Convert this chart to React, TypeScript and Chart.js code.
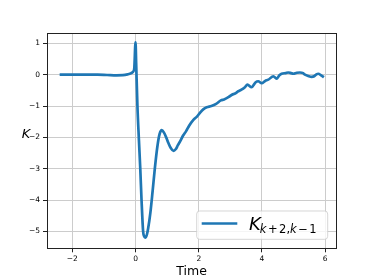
import React, { useEffect, useRef } from 'react';
import { Chart, registerables } from 'chart.js';

Chart.register(...registerables);

const timeValues = [
  -2.4, -2.1, -1.8, -1.5, -1.2, -0.9, -0.6, -0.4, -0.25, -0.15, -0.08, -0.04, 0.0, 0.02, 0.06, 0.107,
  0.15, 0.19, 0.24, 0.28, 0.32, 0.36, 0.4, 0.47, 0.54, 0.61, 0.69, 0.76, 0.83, 0.9, 0.97,
  1.04, 1.12, 1.2, 1.27, 1.34, 1.41, 1.5, 1.6, 1.7, 1.83, 1.95, 2.05, 2.15, 2.25, 2.4, 2.55, 2.7, 2.8,
  2.95, 3.05, 3.15, 3.25, 3.35, 3.45, 3.54, 3.67, 3.8, 3.88, 3.99, 4.1, 4.2, 4.36, 4.46, 4.55, 4.62,
  4.75, 4.83, 4.92, 4.99, 5.1, 5.2, 5.3, 5.36, 5.46, 5.57, 5.65, 5.72, 5.78, 5.87, 5.96,
];

const kValues = [
  0, 0.0, 0.0, 0.0, 0.0, -0.01, -0.02, -0.015, 0.01, 0.04, 0.09, 0.2, 1.03, 0.37, -1.0, -2.08,
  -3.0, -4.0, -5.0, -5.17, -5.2, -5.1, -4.9, -4.4, -3.72, -3.0, -2.3, -1.9, -1.77, -1.85, -2.0,
  -2.18, -2.35, -2.43, -2.38, -2.25, -2.13, -1.95, -1.8, -1.62, -1.44, -1.33, -1.2, -1.1, -1.04, -1.0, -0.93, -0.82, -0.79,
  -0.71, -0.64, -0.6, -0.53, -0.48, -0.41, -0.32, -0.4, -0.24, -0.21, -0.27, -0.2, -0.16, -0.05, -0.13, -0.02, 0.03,
  0.05, 0.07, 0.05, 0.03, 0.06, 0.07, 0.05, 0.0, -0.04, -0.07, -0.05, 0.01, 0.03, -0.02, -0.08,
];

const xTicks = [-2, 0, 2, 4, 6];
const yTicks = [-5, -4, -3, -2, -1, 0, 1];
const xLabel = 'Time';
const yLabel = 'K';
const legendMain = 'K';
const legendSub: [string, boolean][] = [
  ['k', true], ['+', false], ['2', false], [',', false], ['k', true], ['\u2212', false], ['1', false],
];

const LINE_COLOR = '#1f77b4';
const FONT = '"DejaVu Sans", sans-serif';

const fmt = (v: number) => (v < 0 ? '\u2212' + Math.abs(v) : String(v));

const decorPlugin = {
  id: 'decor',
  afterDraw(chart: any) {
    const ctx = chart.ctx as CanvasRenderingContext2D;
    const a = chart.chartArea;
    ctx.save();
    // frame
    ctx.strokeStyle = '#222';
    ctx.lineWidth = 1;
    ctx.strokeRect(Math.round(a.left) + 0.5, Math.round(a.top) + 0.5, Math.round(a.right - a.left), Math.round(a.bottom - a.top));

    // x label
    ctx.fillStyle = '#000';
    ctx.font = `12.5px ${FONT}`;
    ctx.textAlign = 'center';
    ctx.textBaseline = 'alphabetic';
    ctx.fillText(xLabel, (a.left + a.right) / 2, 275);

    // y label
    ctx.font = `italic 13px ${FONT}`;
    ctx.fillText(yLabel, 26, 138);

    // legend
    const bx = 196.7, by = 211, bw = 131, bh = 28.3, r = 3;
    ctx.beginPath();
    ctx.moveTo(bx + r, by);
    ctx.lineTo(bx + bw - r, by);
    ctx.quadraticCurveTo(bx + bw, by, bx + bw, by + r);
    ctx.lineTo(bx + bw, by + bh - r);
    ctx.quadraticCurveTo(bx + bw, by + bh, bx + bw - r, by + bh);
    ctx.lineTo(bx + r, by + bh);
    ctx.quadraticCurveTo(bx, by + bh, bx, by + bh - r);
    ctx.lineTo(bx, by + r);
    ctx.quadraticCurveTo(bx, by, bx + r, by);
    ctx.closePath();
    ctx.fillStyle = 'rgba(255,255,255,0.8)';
    ctx.fill();
    ctx.strokeStyle = 'rgba(204,204,204,0.8)';
    ctx.lineWidth = 1;
    ctx.stroke();

    ctx.beginPath();
    ctx.moveTo(201.7, 223.5);
    ctx.lineTo(237.3, 223.5);
    ctx.strokeStyle = LINE_COLOR;
    ctx.lineWidth = 2.7;
    ctx.stroke();

    ctx.fillStyle = '#000';
    ctx.textAlign = 'left';
    ctx.font = `italic 18px ${FONT}`;
    ctx.fillText(legendMain, 249, 230);
    let x = 249 + ctx.measureText(legendMain).width - 1;
    for (const [s, it] of legendSub) {
      ctx.font = `${it ? 'italic ' : ''}11.5px ${FONT}`;
      const isOp = s === '+' || s === '\u2212';
      if (isOp) x += 1.5;
      ctx.fillText(s, x, 232.5);
      x += ctx.measureText(s).width;
      if (isOp) x += 1.5;
    }
    ctx.restore();
  },
};

export default function App() {
  const ref = useRef<HTMLCanvasElement | null>(null);
  useEffect(() => {
    document.body.style.margin = '0';
    const canvas = ref.current!;
    const chart = new Chart(canvas, {
      type: 'line',
      data: {
        datasets: [
          {
            label: 'K',
            data: timeValues.map((t, i) => ({ x: t, y: kValues[i] })),
            borderColor: LINE_COLOR,
            borderWidth: 2.7,
            pointRadius: 0,
            fill: false,
            cubicInterpolationMode: 'monotone',
            borderJoinStyle: 'round',
            borderCapStyle: 'butt',
          },
        ],
      },
      options: {
        animation: false,
        responsive: false,
        devicePixelRatio: 1,
        layout: { padding: { left: 0, top: 33.3, right: 37.7, bottom: 0 } },
        plugins: { legend: { display: false }, tooltip: { enabled: false } },
        scales: {
          x: {
            type: 'linear',
            min: -2.8,
            max: 6.35,
            afterBuildTicks: (s: any) => { s.ticks = xTicks.map((v) => ({ value: v })); },
            afterFit: (s: any) => { s.height = 30.7; },
            grid: { color: '#cccccc', lineWidth: 1, drawTicks: true, tickLength: 4, tickColor: '#222' },
            border: { display: false },
            ticks: { color: '#000', font: { family: FONT, size: 7.5 }, padding: 2, maxRotation: 0, callback: (v: any) => fmt(Number(v)) },
          },
          y: {
            type: 'linear',
            min: -5.54,
            max: 1.32,
            afterBuildTicks: (s: any) => { s.ticks = yTicks.map((v) => ({ value: v })); },
            afterFit: (s: any) => { s.width = 47; },
            grid: { color: '#cccccc', lineWidth: 1, drawTicks: true, tickLength: 4, tickColor: '#222' },
            border: { display: false },
            ticks: { color: '#000', font: { family: FONT, size: 7.5 }, padding: 3, callback: (v: any) => fmt(Number(v)) },
          },
        },
      },
      plugins: [decorPlugin],
    } as any);
    return () => chart.destroy();
  }, []);
  return <canvas ref={ref} width={374} height={279} style={{ display: 'block' }} />;
}
